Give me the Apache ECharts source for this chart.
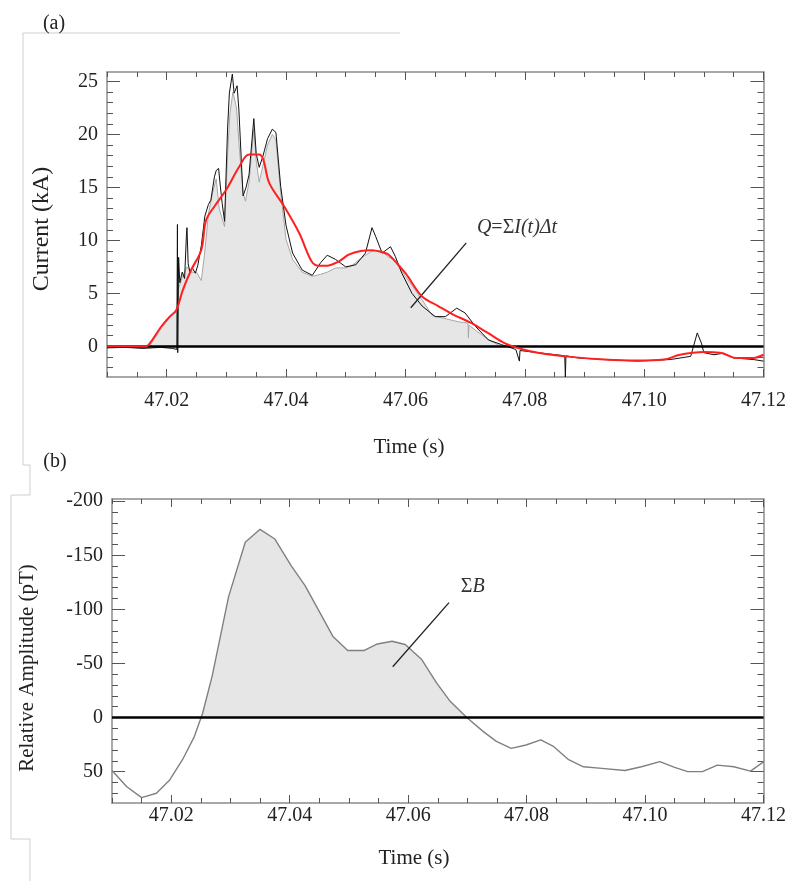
<!DOCTYPE html>
<html>
<head>
<meta charset="utf-8">
<script src="https://cdn.jsdelivr.net/npm/echarts@6/dist/echarts.min.js"></script>
<style>
html,body{margin:0;padding:0;background:#fff;}
#chart{width:789px;height:881px;}
</style>
</head>
<body>
<div id="chart"></div>
<script>
// ---------- Panel (a): current ----------
const rawTime = [47.0100,47.0130,47.0160,47.0190,47.0210,47.0217,47.0218,47.02185,47.0220,47.0222,47.0226,47.0230,47.0233,47.0234,47.0236,47.0239,47.0243,47.0248,47.0252,47.0258,47.0264,47.0270,47.0274,47.0280,47.0283,47.0287,47.0289,47.0293,47.0297,47.0302,47.0305,47.0310,47.0313,47.0318,47.0321,47.0325,47.0328,47.0333,47.0338,47.0346,47.0350,47.0355,47.0361,47.0369,47.0377,47.0383,47.0391,47.0400,47.0411,47.0427,47.0444,47.0458,47.0469,47.0483,47.0500,47.0517,47.0533,47.0544,47.0550,47.0561,47.0575,47.0583,47.0594,47.0611,47.0628,47.0650,47.0667,47.0686,47.0700,47.0717,47.0739,47.0761,47.0785,47.0791,47.0792,47.0822,47.0867,47.0868,47.0869,47.0889,47.0933,47.0989,47.1044,47.1078,47.1089,47.1096,47.1100,47.1117,47.1133,47.1150,47.1183,47.1200];
const rawCurrent = [-0.15,-0.1,-0.2,-0.1,-0.2,-0.3,11.5,-0.6,8.4,6.0,7.0,6.4,10.4,11.2,7.8,7.0,7.4,6.9,7.6,9.5,12.3,13.4,13.8,16.0,16.6,16.8,15.6,13.5,11.8,20.5,23.9,25.7,23.9,24.6,22.3,17.6,14.2,15.0,16.2,21.5,18.2,16.9,17.9,19.6,20.5,20.2,15.1,11.4,8.8,7.2,6.7,7.9,8.6,8.2,7.5,7.7,8.8,11.2,10.4,8.8,9.4,8.5,6.9,5.0,3.8,2.8,2.8,3.6,3.15,1.9,0.6,0.16,-0.3,-1.4,-0.4,-0.6,-0.9,-2.9,-0.9,-1.1,-1.25,-1.4,-1.25,-0.95,1.26,0.3,-0.6,-0.8,-0.65,-1.1,-1.25,-1.4];

const fillTime = [47.0171,47.0190,47.0205,47.0217,47.0220,47.0226,47.0234,47.0240,47.0250,47.0258,47.0264,47.0270,47.0277,47.0283,47.0288,47.0297,47.0302,47.0306,47.0311,47.0317,47.0322,47.0328,47.0332,47.0338,47.0346,47.0350,47.0355,47.0361,47.0369,47.0377,47.0383,47.0391,47.0400,47.0411,47.0427,47.0444,47.0458,47.0469,47.0483,47.0500,47.0510,47.0525,47.0544,47.0560,47.0572,47.0580,47.0600,47.0628,47.0645,47.0660,47.0690,47.0705,47.07055,47.07065,47.0720,47.0740,47.0760];
const fillCurrent = [0,1.6,2.7,3.5,5.5,6.5,7.5,7.0,7.0,6.2,9.0,12.5,14.5,15.8,13.0,11.3,18.0,22.0,24.0,22.5,18.5,14.5,13.7,15.5,20.5,17.5,15.5,17.0,19.0,20.0,19.5,14.5,10.1,8.2,7.0,6.6,6.8,7.0,7.4,7.4,7.6,8.3,9.0,9.0,8.4,8.2,6.6,4.4,2.9,2.7,2.3,2.2,0.8,2.0,1.4,0.6,0.0];

const smoothTime = [47.0100,47.0165,47.0172,47.0190,47.0205,47.0216,47.0227,47.0241,47.0258,47.0266,47.0280,47.0300,47.0322,47.0338,47.0355,47.0362,47.0372,47.0397,47.0422,47.0443,47.0455,47.0466,47.0488,47.0505,47.0525,47.0544,47.0560,47.0572,47.0600,47.0628,47.0655,47.0680,47.0710,47.0738,47.0766,47.0794,47.0822,47.0877,47.0933,47.0988,47.1033,47.1060,47.1100,47.1127,47.1155,47.1183,47.1200];
const smoothCurrent = [0,0,0.3,1.8,2.8,3.4,5.3,7.2,9.1,11.9,13.2,14.8,17.0,18.1,18.1,17.6,15.4,13.2,10.7,8.0,7.6,7.6,8.0,8.65,9.0,9.06,8.9,8.65,6.9,4.7,3.8,3.0,2.2,1.26,0.3,-0.25,-0.6,-1.0,-1.25,-1.35,-1.25,-0.8,-0.55,-0.6,-1.1,-1.1,-0.8];

// ---------- Panel (b): magnetic field ----------
const fieldTime = [47.0100,47.0125,47.0150,47.0175,47.0197,47.0219,47.0239,47.0253,47.0269,47.0297,47.0325,47.0350,47.0375,47.0403,47.0426,47.0448,47.0473,47.0498,47.0526,47.0548,47.0573,47.0595,47.0623,47.0648,47.0671,47.0699,47.0727,47.0749,47.0774,47.0799,47.0824,47.0846,47.0871,47.0896,47.0927,47.0966,47.0994,47.1025,47.1050,47.1072,47.1097,47.1122,47.1150,47.1178,47.1200];
const fieldAmp = [49,64,74,70,58,39,17.6,-4,-38,-112,-162,-174,-165,-140,-122,-100,-75,-62,-62,-68,-70.5,-67.5,-53.6,-32,-15,0,13,22,28.5,25.4,20.7,27,39,45.5,47,49,45.5,40.8,46,50,50,44,45.5,49.5,41];

// ---------- Axes ticks / labels ----------
const timeTicks = ['47.02','47.04','47.06','47.08','47.10','47.12'];
const currentTicks = [0,5,10,15,20,25];
const fieldTicks = [-200,-150,-100,-50,0,50];

const FONT = 'Liberation Serif';
const BOX = '#8c8c8c';
const TICK = '#555';

function zip(a,b){return a.map((t,i)=>[t,b[i]]);}
function range(a,b,s){const o=[];for(let k=0;a+k*s<=b+1e-9;k++)o.push(+(a+k*s).toFixed(4));return o;}
function negFill(ts,vs){
  const out=[];
  for(let i=0;i<ts.length;i++){
    if(i>0 && (vs[i-1]<0)!==(vs[i]<0) && vs[i-1]!==0 && vs[i]!==0){
      const tz=ts[i-1]+(0-vs[i-1])*(ts[i]-ts[i-1])/(vs[i]-vs[i-1]);
      out.push([tz,0]);
    }
    out.push([ts[i],Math.min(vs[i],0)]);
  }
  return out;
}

const timeMajor = timeTicks.map(Number);
const timeMinor = range(47.01,47.12,0.005);

function xAxes(grid, labelMargin){
  const base={type:'value',gridIndex:grid,min:47.01,max:47.12,splitLine:{show:false}};
  return [
    Object.assign({},base,{position:'bottom',
      axisLine:{show:true,onZero:false,lineStyle:{color:BOX,width:1.5}},
      axisTick:{show:true,inside:true,length:5,customValues:timeMinor,lineStyle:{color:TICK}},
      axisLabel:{show:true,customValues:timeMajor,margin:labelMargin,formatter:v=>v.toFixed(2),
        fontFamily:FONT,fontSize:20,color:'#222'}}),
    Object.assign({},base,{position:'bottom',axisLine:{show:false,onZero:false},
      axisTick:{show:true,inside:true,length:8,customValues:timeMajor,lineStyle:{color:TICK}},axisLabel:{show:false}}),
    Object.assign({},base,{position:'top',
      axisLine:{show:true,onZero:false,lineStyle:{color:BOX,width:1.5}},
      axisTick:{show:true,inside:true,length:5,customValues:timeMinor,lineStyle:{color:TICK}},axisLabel:{show:false}}),
    Object.assign({},base,{position:'top',axisLine:{show:false,onZero:false},
      axisTick:{show:true,inside:true,length:8,customValues:timeMajor,lineStyle:{color:TICK}},axisLabel:{show:false}})
  ];
}
function yAxes(grid,min,max,major,minor,inverse){
  const base={type:'value',gridIndex:grid,min:min,max:max,inverse:!!inverse,splitLine:{show:false}};
  return [
    Object.assign({},base,{position:'left',
      axisLine:{show:true,onZero:false,lineStyle:{color:BOX,width:1.5}},
      axisTick:{show:true,inside:true,length:6,customValues:minor,lineStyle:{color:TICK}},
      axisLabel:{show:true,customValues:major,margin:9,fontFamily:FONT,fontSize:20,color:'#222'}}),
    Object.assign({},base,{position:'left',axisLine:{show:false,onZero:false},
      axisTick:{show:true,inside:true,length:13,customValues:major,lineStyle:{color:TICK}},axisLabel:{show:false}}),
    Object.assign({},base,{position:'right',
      axisLine:{show:true,onZero:false,lineStyle:{color:BOX,width:1.5}},
      axisTick:{show:true,inside:true,length:6,customValues:minor,lineStyle:{color:TICK}},axisLabel:{show:false}}),
    Object.assign({},base,{position:'right',axisLine:{show:false,onZero:false},
      axisTick:{show:true,inside:true,length:13,customValues:major,lineStyle:{color:TICK}},axisLabel:{show:false}})
  ];
}

const chart = echarts.init(document.getElementById('chart'),null,{renderer:'canvas'});
const zeroLine = {silent:true,symbol:'none',label:{show:false},
  lineStyle:{color:'#000',width:2.6,type:'solid'},data:[{yAxis:0}]};

const option = {
  animation:false,
  backgroundColor:'#fff',
  grid:[
    {left:107,top:72,width:661,height:305},
    {left:112,top:499,width:657,height:304}
  ],
  xAxis:[].concat(xAxes(0,14),xAxes(1,3)),
  yAxis:[].concat(
    yAxes(0,-2.9,25.9,currentTicks,range(-2,25,1)),
    yAxes(1,-202,79,fieldTicks,range(-200,70,10),true)
  ),
  graphic:[
    {type:'polyline',silent:true,shape:{points:[[400,33],[23,33],[23,465],[30,465],[30,495],[11,495],[11,839],[30,839],[30,881]]},
      style:{stroke:'#cfcfcf',lineWidth:1,fill:null}},
    {type:'text',x:54,y:24,style:{text:'(a)',font:'20px "Liberation Serif"',fill:'#222',textAlign:'center',textVerticalAlign:'middle',align:'center',verticalAlign:'middle'}},
    {type:'text',x:55,y:462,style:{text:'(b)',font:'20px "Liberation Serif"',fill:'#222',textAlign:'center',textVerticalAlign:'middle',align:'center',verticalAlign:'middle'}},
    {type:'text',x:42,y:229,rotation:Math.PI/2,style:{text:'Current (kA)',font:'24px "Liberation Serif"',fill:'#222',textAlign:'center',textVerticalAlign:'middle',align:'center',verticalAlign:'middle'}},
    {type:'text',x:409,y:447,style:{text:'Time (s)',font:'21px "Liberation Serif"',fill:'#222',textAlign:'center',textVerticalAlign:'middle',align:'center',verticalAlign:'middle'}},
    {type:'text',x:27,y:668,rotation:Math.PI/2,style:{text:'Relative Amplitude (pT)',font:'21px "Liberation Serif"',fill:'#222',textAlign:'center',textVerticalAlign:'middle',align:'center',verticalAlign:'middle'}},
    {type:'text',x:414,y:858,style:{text:'Time (s)',font:'21px "Liberation Serif"',fill:'#222',textAlign:'center',textVerticalAlign:'middle',align:'center',verticalAlign:'middle'}}
  ],
  series:[
    {name:'charge area',type:'line',xAxisIndex:0,yAxisIndex:0,data:zip(fillTime,fillCurrent),
      showSymbol:false,symbol:'none',z:2,
      lineStyle:{color:'#a8a8a8',width:1},areaStyle:{color:'#e6e6e6',opacity:1},
      markLine:{silent:true,symbol:'none',label:{show:false},lineStyle:{color:'#222',width:1.3,type:'solid'},
        data:[[{coord:[47.0609,3.64]},{coord:[47.0702,9.76]}]]},
      markPoint:{silent:true,symbol:'circle',symbolSize:1,itemStyle:{color:'rgba(0,0,0,0)'},
        data:[{coord:[47.0719,11.17],label:{show:true,position:'right',distance:0,
          formatter:'{i|Q}{n|=Σ}{i|I(t)Δt}',
          rich:{i:{fontFamily:FONT,fontStyle:'italic',fontSize:20,color:'#333'},n:{fontFamily:FONT,fontSize:20,color:'#333'}}}}]}},
    {name:'current',type:'line',xAxisIndex:0,yAxisIndex:0,data:zip(rawTime,rawCurrent),
      showSymbol:false,symbol:'none',z:3,lineStyle:{color:'#111',width:1},markLine:zeroLine},
    {name:'smoothed',type:'line',xAxisIndex:0,yAxisIndex:0,data:zip(smoothTime,smoothCurrent),
      showSymbol:false,symbol:'none',smooth:0.35,z:5,lineStyle:{color:'#ff1f1f',width:2}},
    {name:'field area',type:'line',xAxisIndex:4,yAxisIndex:4,data:negFill(fieldTime,fieldAmp),
      showSymbol:false,symbol:'none',z:2,lineStyle:{width:0,opacity:0},areaStyle:{color:'#e6e6e6',opacity:1},
      markLine:{silent:true,symbol:'none',label:{show:false},lineStyle:{color:'#222',width:1.3,type:'solid'},
        data:[[{coord:[47.0574,-46.9]},{coord:[47.0669,-106.2]}]]},
      markPoint:{silent:true,symbol:'circle',symbolSize:1,itemStyle:{color:'rgba(0,0,0,0)'},
        data:[{coord:[47.0688,-121],label:{show:true,position:'right',distance:0,
          formatter:'{n|Σ}{i|B}',
          rich:{i:{fontFamily:FONT,fontStyle:'italic',fontSize:20,color:'#333'},n:{fontFamily:FONT,fontSize:20,color:'#333'}}}}]}},
    {name:'field',type:'line',xAxisIndex:4,yAxisIndex:4,data:zip(fieldTime,fieldAmp),
      showSymbol:false,symbol:'none',z:3,lineStyle:{color:'#808080',width:1.4},markLine:zeroLine}
  ]
};
chart.setOption(option);
</script>
</body>
</html>
